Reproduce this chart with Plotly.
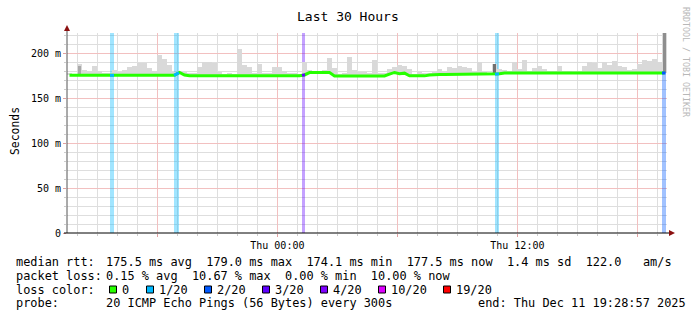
import numpy as np
import pandas as pd
import plotly.graph_objects as go

# ---------------- data ----------------
START = "2025-12-10 13:28:57"
END = "2025-12-11 19:28:57"
STEP_S = 900  # 15-minute buckets

# median RTT per bucket (ms)
median_rtt = ([175.2] * 22 + [178.5, 175.6] + [174.7] * 23 + [175.6] + [178.2] * 5
              + [174.5] * 11 + [176.5, 178.4, 177.0, 177.6] + [174.6] * 4 + [175.6]
              + [176.2] * 13 + [177.0] + [177.8] * 33)

# top of the smoke per bucket (ms)
smoke_top = [
    178, 177, 188, 181, 180, 186, 180, 178, 178, 181,
    178.5, 181, 184, 186, 189, 189, 183, 180, 197.8, 193,
    187, 179, 180, 179, 178, 178, 185, 189.5, 190, 189,
    179, 177, 178, 177, 204, 187, 184, 178, 188, 178,
    178, 184, 185, 180, 178, 178, 177, 190, 181, 180,
    180, 181, 194, 183, 177, 178, 196, 181, 179, 179,
    178, 192, 178, 178, 182, 184, 187, 186, 182, 177,
    179, 178, 178, 179, 182, 180, 185, 183, 186, 184,
    183, 179, 190, 179, 178, 188, 182, 181, 180, 190,
    182, 192, 180, 183, 186, 182, 179, 180, 186, 179,
    179, 178, 179, 186, 190, 189, 183, 190, 187, 191,
    186, 185, 181, 182, 188, 192, 191, 193, 190, 222,
]

# darker smoke buckets
dark_index = [2, 85, 119]
dark_top = [186, 188, 222]
dark_color = ["#a9a9a9", "#707070", "#8e8e8e"]

# packet-loss events
loss_start = ["2025-12-10 15:37:57", "2025-12-10 18:49:57", "2025-12-11 01:13:57",
              "2025-12-11 10:52:57", "2025-12-11 19:13:57"]
loss_end = ["2025-12-10 15:49:57", "2025-12-10 19:04:57", "2025-12-11 01:22:57",
            "2025-12-11 11:04:57", "2025-12-11 19:24:30"]
loss_pings = [1, 1, 3, 1, 2]

legend_labels = ["0", "1/20", "2/20", "3/20", "4/20", "10/20", "19/20"]
legend_pings = [0, 1, 2, 3, 4, 10, 19]
legend_colors = ["#26ff00", "#00b8ff", "#0059ff", "#5e00ff", "#7e00ff", "#dd00ff", "#ff0000"]

y_tickvals = [0, 50, 100, 150, 200]
y_ticktext = ["0", "50 m", "100 m", "150 m", "200 m"]
x_tickvals = ["2025-12-10 18:00", "2025-12-11 00:00", "2025-12-11 06:00",
              "2025-12-11 12:00", "2025-12-11 18:00"]
x_ticktext = ["", "Thu 00:00", "", "Thu 12:00", ""]

stat_rtt = "175.5 ms avg  179.0 ms max  174.1 ms min  177.5 ms now  1.4 ms sd  122.0   am/s"
stat_loss = "0.15 % avg  10.67 % max  0.00 % min  10.00 % now"
probe_txt = "20 ICMP Echo Pings (56 Bytes) every 300s"
end_txt = "end: Thu Dec 11 19:28:57 2025"

# ---------------- layout helpers ----------------
W, H = 697, 321
PL, PT, PW, PH = 67, 33, 600, 200
YTOP = 200 / 0.9
MONO = "DejaVu Sans Mono"
MAJOR = "#f2c0c0"
MINOR = "#dedede"


def px(x):
    return (x - PL) / PW


def py(y):
    return (PT + PH - y) / PH


def nb(s):
    return s.replace(" ", "\u00a0")


t0 = pd.Timestamp(START)
centers = t0 + pd.to_timedelta(STEP_S / 2 + STEP_S * np.arange(len(median_rtt)), unit="s")
ping_color = dict(zip(legend_pings, legend_colors))

fig = go.Figure()

# loss background bars
for s, e, n in zip(loss_start, loss_end, loss_pings):
    ts, te = pd.Timestamp(s), pd.Timestamp(e)
    c = ping_color[n].lstrip("#")
    r, g, b = int(c[0:2], 16), int(c[2:4], 16), int(c[4:6], 16)
    fig.add_trace(go.Bar(x=[ts + (te - ts) / 2], y=[YTOP], base=[0],
                         width=[(te - ts).total_seconds() * 1000],
                         marker=dict(color=f"rgba({r},{g},{b},0.37)", line=dict(width=0)),
                         hoverinfo="skip"))

# smoke
med = np.array(median_rtt)
top = np.array(smoke_top, dtype=float)
fig.add_trace(go.Bar(x=centers, y=np.maximum(top - med, 0), base=med,
                     width=STEP_S * 1000,
                     marker=dict(color="#d9d9d9", line=dict(width=0)), hoverinfo="skip"))
for i, tv, col in zip(dark_index, dark_top, dark_color):
    fig.add_trace(go.Bar(x=[centers[i]], y=[tv - med[i]], base=[med[i]],
                         width=STEP_S * 1000 * 0.7,
                         marker=dict(color=col, line=dict(width=0)), hoverinfo="skip"))

# median line
fig.add_trace(go.Scatter(x=centers, y=median_rtt, mode="lines",
                         line=dict(color="#26ff00", width=3), hoverinfo="skip"))
cnum = (centers - t0).total_seconds().to_numpy()
for s, e, n in zip(loss_start, loss_end, loss_pings):
    tt = [pd.Timestamp(s), pd.Timestamp(e)]
    secs = [(t - t0).total_seconds() for t in tt]
    fig.add_trace(go.Scatter(x=tt, y=np.interp(secs, cnum, med), mode="lines",
                             line=dict(color=ping_color[n], width=3), hoverinfo="skip"))

shapes = [
    # y axis line + arrow
    dict(type="line", xref="paper", yref="paper", x0=px(67), x1=px(67), y0=py(233), y1=py(29),
         line=dict(color="#555555", width=1)),
    dict(type="path", xref="paper", yref="paper",
         path=f"M {px(64)},{py(31)} L {px(70)},{py(31)} L {px(67)},{py(25)} Z",
         fillcolor="#8b1010", line=dict(width=0)),
    # x axis line + arrow
    dict(type="line", xref="paper", yref="paper", x0=px(64), x1=px(670), y0=py(233), y1=py(233),
         line=dict(color="black", width=1)),
    dict(type="path", xref="paper", yref="paper",
         path=f"M {px(669)},{py(230)} L {px(669)},{py(236)} L {px(675)},{py(233)} Z",
         fillcolor="#8b1010", line=dict(width=0)),
]

annotations = []


def text(x, y, s, size=11.9, color="black", anchor="left", angle=0):
    annotations.append(dict(xref="paper", yref="paper", x=px(x), y=py(y), text=nb(s),
                            showarrow=False, xanchor=anchor, yanchor="middle",
                            textangle=angle, borderpad=0, borderwidth=0,
                            font=dict(family=MONO, size=size, color=color)))


text(348.3, 16, "Last 30 Hours", size=13, anchor="center")
text(15, 131, "Seconds", size=11.4, anchor="center", angle=-90)
text(686, 62, "RRDTOOL / TOBI OETIKER", size=8.3, color="#b8b8b8", anchor="center", angle=90)

L1, L2, L3, L4 = 262, 275.8, 289.5, 303.3
text(15.5, L1, "median rtt:")
text(105.5, L1, stat_rtt)
text(15.5, L2, "packet loss:")
text(105.5, L2, stat_loss)
text(15.5, L3, "loss color:")
text(15.5, L4, "probe:")
text(105.5, L4, probe_txt)
text(477.5, L4, end_txt)

box_x = [109.5, 146.5, 204.5, 262.5, 320.5, 378.5, 443.5]
for bx, lab, col in zip(box_x, legend_labels, legend_colors):
    shapes.append(dict(type="rect", xref="paper", yref="paper",
                       x0=px(bx), x1=px(bx + 7), y0=py(L3 + 3.5), y1=py(L3 - 3.5),
                       fillcolor=col, line=dict(color="black", width=1)))
    text(bx + 12.5, L3, lab)

fig.update_layout(
    width=W, height=H,
    margin=dict(l=PL, r=W - PL - PW, t=PT, b=H - PT - PH, pad=0),
    paper_bgcolor="white", plot_bgcolor="white",
    showlegend=False, barmode="overlay", bargap=0,
    shapes=shapes, annotations=annotations,
    xaxis=dict(type="date", range=[START, END], tickmode="array",
               tickvals=x_tickvals, ticktext=x_ticktext,
               showgrid=True, gridcolor=MAJOR, gridwidth=1,
               ticks="outside", ticklen=3, tickcolor="#e0a0a0",
               tickfont=dict(family=MONO, size=10, color="black"),
               minor=dict(dtick=3600000, tick0="2025-12-10 00:00", showgrid=True,
                          gridcolor=MINOR, ticks="outside", ticklen=2, tickcolor="#cccccc"),
               showline=False, zeroline=False, fixedrange=True),
    yaxis=dict(range=[0, YTOP], tickmode="array", tickvals=y_tickvals, ticktext=y_ticktext,
               showgrid=True, gridcolor=MAJOR, gridwidth=1,
               ticks="outside", ticklen=3, tickcolor="#e0a0a0",
               tickfont=dict(family=MONO, size=10, color="black"),
               minor=dict(dtick=10, tick0=0, showgrid=True, gridcolor=MINOR,
                          ticks="outside", ticklen=2, tickcolor="#cccccc"),
               showline=False, zeroline=False, fixedrange=True),
)

fig.write_html("out.html")
